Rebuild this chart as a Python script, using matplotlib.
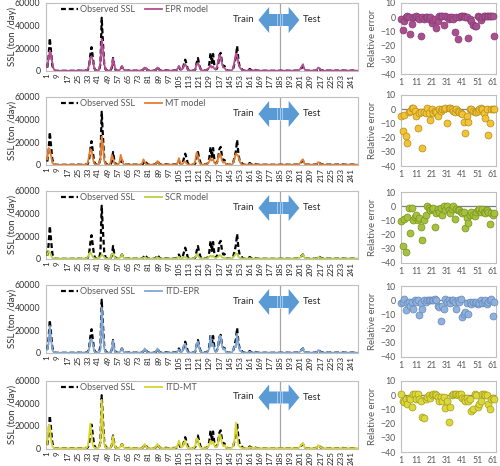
import numpy as np
import matplotlib
matplotlib.use('Agg')
import matplotlib.pyplot as plt
from matplotlib.patches import Polygon

plt.rcParams['font.family'] = ['Lato', 'DejaVu Sans']

# ---------------- data ----------------
days = list(range(1, 247))
tick_days = list(range(1, 247, 8))
test_points = list(range(1, 63))
err_ticks = [1, 11, 21, 31, 41, 51, 61]

observed = [
    3000, 12000, 29000, 17000, 5000, 1200, 300, 200, 150, 150,
    100, 100, 100, 100, 100, 100, 150, 200, 200, 150,
    100, 100, 200, 300, 400, 300, 200, 200, 500, 800,
    500, 300, 1000, 4000, 14000, 21000, 12000, 3000, 800, 400,
    300, 800, 6000, 47000, 25000, 6000, 1500, 600, 400, 400,
    500, 3000, 11500, 4000, 800, 400, 300, 600, 2000, 4000,
    1500, 500, 300, 300, 400, 500, 400, 300, 300, 300,
    300, 400, 500, 400, 300, 500, 1500, 3500, 2500, 800,
    400, 300, 300, 300, 300, 500, 1200, 3500, 2000, 600,
    400, 300, 300, 500, 600, 400, 300, 300, 400, 500,
    400, 500, 800, 1500, 4000, 1500, 800, 2000, 6000, 10000,
    6000, 1500, 600, 400, 300, 300, 500, 1500, 7000, 11500,
    6000, 2000, 600, 400, 500, 400, 600, 2000, 6000, 16000,
    7000, 15000, 5000, 1500, 2000, 6000, 14000, 16000, 8000, 4000,
    4500, 1500, 500, 300, 300, 400, 800, 2500, 7000, 12000,
    22000, 10000, 3500, 3000, 1200, 400, 300, 300, 400, 800,
    1800, 800, 500, 700, 1200, 500, 300, 300, 300, 300,
    200, 200, 300, 200, 200, 200, 300, 200, 200, 200,
    200, 200, 200, 200, 200, 300, 200, 200, 300, 300,
    300, 200, 200, 300, 300, 400, 300, 300, 400, 800,
    1500, 3000, 4000, 1000, 500, 300, 300, 300, 300, 400,
    300, 300, 400, 800, 2500, 2000, 800, 600, 400, 300,
    300, 400, 300, 300, 400, 500, 400, 300, 300, 400,
    300, 300, 400, 500, 400, 300, 300, 400, 300, 300,
    300, 400, 300, 300, 300, 300]

epr_model = [
    4000, 10000, 18000, 15000, 7000, 2000, 500, 300, 200, 200,
    200, 200, 200, 200, 200, 200, 200, 200, 200, 200,
    200, 200, 200, 300, 400, 400, 300, 300, 400, 600,
    500, 400, 1500, 5000, 12000, 13000, 9000, 3000, 800, 400,
    400, 1000, 8000, 28000, 20000, 6000, 1500, 600, 400, 400,
    1000, 4000, 11000, 5000, 1000, 500, 400, 700, 2000, 4000,
    2000, 600, 400, 300, 300, 400, 400, 300, 300, 300,
    300, 300, 400, 400, 300, 500, 1500, 3000, 2500, 800,
    400, 300, 300, 300, 300, 500, 1500, 3000, 2000, 700,
    400, 300, 300, 400, 500, 400, 300, 300, 400, 500,
    400, 500, 1000, 2000, 4000, 2000, 1000, 2000, 5000, 6000,
    4000, 1500, 600, 400, 300, 300, 600, 2000, 6000, 7000,
    5000, 2000, 700, 400, 500, 400, 600, 2000, 3000, 5000,
    3000, 4000, 2000, 1500, 3000, 9000, 14000, 13000, 7000, 3000,
    3000, 1200, 500, 300, 300, 400, 800, 3000, 9000, 15000,
    14000, 7000, 3000, 2000, 1000, 400, 300, 300, 400, 700,
    1000, 600, 400, 600, 800, 400, 300, 300, 300, 300,
    300, 300, 300, 300, 300, 300, 300, 300, 300, 300,
    300, 300, 300, 300, 300, 300, 300, 300, 300, 300,
    300, 300, 300, 300, 300, 300, 300, 300, 400, 800,
    2000, 4000, 6000, 2000, 600, 300, 300, 300, 300, 400,
    300, 300, 400, 1000, 3000, 2500, 1000, 600, 400, 300,
    300, 400, 300, 300, 400, 500, 400, 300, 300, 400,
    300, 300, 400, 500, 400, 300, 300, 400, 300, 300,
    300, 400, 300, 300, 300, 300]

mt_model = [
    5000, 15000, 14000, 8000, 2000, 600, 300, 200, 200, 200,
    200, 200, 200, 200, 200, 200, 200, 200, 200, 200,
    200, 200, 200, 200, 300, 300, 200, 200, 300, 400,
    400, 500, 2000, 8000, 14000, 13000, 6000, 1500, 500, 300,
    300, 1000, 5000, 25000, 18000, 4000, 800, 400, 300, 300,
    2000, 9000, 6000, 1500, 500, 300, 300, 2000, 9000, 5000,
    1000, 400, 300, 300, 300, 300, 300, 300, 300, 300,
    300, 300, 300, 300, 400, 1500, 5000, 3000, 800, 400,
    300, 300, 300, 300, 300, 500, 1000, 3500, 2000, 500,
    300, 300, 300, 300, 400, 300, 300, 300, 300, 400,
    400, 400, 800, 2000, 6000, 2000, 500, 1000, 3000, 3000,
    1500, 500, 300, 300, 300, 300, 1000, 4000, 11000, 8000,
    3000, 800, 400, 300, 300, 300, 500, 1500, 3000, 6000,
    4000, 5000, 2000, 1000, 2000, 6000, 10000, 9000, 4000, 2000,
    3000, 1000, 400, 300, 300, 300, 600, 2000, 6000, 10000,
    9000, 8000, 3000, 1000, 500, 300, 300, 300, 300, 500,
    1000, 500, 300, 400, 600, 300, 300, 300, 300, 300,
    300, 300, 300, 300, 300, 300, 300, 300, 300, 300,
    300, 300, 300, 300, 300, 300, 300, 300, 300, 300,
    300, 300, 300, 300, 300, 300, 300, 300, 400, 800,
    2000, 4000, 5000, 1500, 500, 300, 300, 300, 300, 300,
    300, 300, 300, 800, 2500, 2000, 800, 400, 300, 300,
    300, 300, 300, 300, 300, 300, 300, 300, 300, 300,
    300, 300, 300, 300, 300, 300, 300, 300, 300, 300,
    300, 300, 300, 300, 300, 300]

scr_model = [
    4000, 7000, 6000, 3000, 1000, 500, 400, 400, 400, 400,
    400, 400, 400, 400, 400, 400, 400, 400, 400, 400,
    400, 400, 400, 400, 500, 500, 400, 400, 500, 500,
    400, 500, 1500, 4000, 6000, 4000, 2000, 800, 500, 400,
    400, 800, 2000, 4000, 3000, 1500, 600, 400, 400, 400,
    600, 4000, 5000, 2000, 600, 400, 400, 600, 2000, 4000,
    1500, 500, 400, 400, 400, 400, 400, 400, 400, 400,
    400, 400, 400, 400, 400, 600, 1000, 1500, 1000, 500,
    400, 400, 400, 400, 400, 500, 800, 1500, 1000, 500,
    400, 400, 400, 400, 400, 400, 400, 400, 400, 400,
    400, 400, 600, 1000, 2000, 1000, 500, 800, 1500, 1500,
    1000, 500, 400, 400, 400, 400, 800, 2000, 4000, 3000,
    1500, 700, 400, 400, 400, 400, 500, 1000, 2000, 3000,
    2000, 3000, 1500, 800, 1200, 2000, 3500, 3000, 1500, 1000,
    1200, 700, 400, 400, 400, 400, 500, 1500, 3000, 5000,
    4500, 2000, 1000, 800, 500, 400, 400, 400, 400, 500,
    800, 500, 400, 500, 600, 400, 400, 400, 400, 400,
    400, 400, 400, 400, 400, 400, 400, 400, 400, 400,
    400, 400, 400, 400, 400, 400, 400, 400, 400, 400,
    400, 400, 400, 400, 400, 400, 400, 400, 500, 800,
    1500, 3000, 4000, 1500, 600, 400, 400, 400, 400, 400,
    400, 400, 400, 700, 1500, 1500, 700, 500, 400, 400,
    400, 400, 400, 400, 400, 400, 400, 400, 400, 400,
    400, 400, 400, 400, 400, 400, 400, 400, 400, 400,
    400, 400, 400, 400, 400, 400]

itd_epr_model = [
    3000, 8000, 24000, 12000, 3000, 800, 300, 200, 200, 200,
    200, 200, 200, 200, 200, 200, 200, 200, 200, 200,
    200, 200, 200, 300, 300, 300, 200, 200, 300, 500,
    400, 300, 800, 3000, 12000, 12000, 8000, 2000, 500, 300,
    300, 600, 3000, 40000, 20000, 4000, 800, 400, 300, 300,
    500, 3000, 11000, 3000, 600, 300, 300, 500, 2000, 4000,
    1500, 400, 300, 300, 300, 300, 300, 300, 300, 300,
    300, 300, 400, 300, 300, 400, 1500, 4000, 2000, 600,
    300, 300, 300, 300, 300, 400, 1500, 4000, 2000, 500,
    300, 300, 300, 300, 300, 300, 300, 300, 300, 300,
    300, 400, 600, 1500, 3000, 1500, 600, 2000, 7000, 8000,
    3000, 800, 400, 300, 300, 300, 400, 2000, 8000, 10000,
    5000, 1500, 500, 300, 400, 300, 500, 1500, 4000, 15000,
    6000, 8000, 3000, 1000, 1500, 6000, 15000, 15000, 7000, 3000,
    4000, 1200, 400, 300, 300, 300, 600, 3000, 6000, 5000,
    17000, 8000, 2000, 1500, 800, 300, 300, 300, 300, 600,
    1200, 600, 300, 500, 800, 300, 300, 300, 300, 300,
    300, 300, 300, 300, 300, 300, 300, 300, 300, 300,
    300, 300, 300, 300, 300, 300, 300, 300, 300, 300,
    300, 300, 300, 300, 300, 300, 300, 300, 400, 700,
    1500, 3000, 4000, 1000, 400, 300, 300, 300, 300, 300,
    300, 300, 300, 700, 2500, 2000, 700, 400, 300, 300,
    300, 300, 300, 300, 300, 300, 300, 300, 300, 300,
    300, 300, 300, 300, 300, 300, 300, 300, 300, 300,
    300, 300, 300, 300, 300, 300]

itd_mt_model = [
    4000, 20000, 20000, 8000, 2000, 600, 300, 200, 200, 200,
    200, 200, 200, 200, 200, 200, 200, 200, 200, 200,
    200, 200, 200, 300, 300, 300, 200, 200, 300, 500,
    400, 400, 2000, 10000, 22000, 12000, 3000, 800, 400, 300,
    300, 1000, 5000, 43000, 20000, 4000, 800, 400, 300, 300,
    500, 3000, 11000, 3000, 600, 300, 300, 500, 2000, 4000,
    1500, 400, 300, 300, 300, 300, 300, 300, 300, 300,
    300, 300, 400, 300, 300, 400, 1500, 4000, 2000, 600,
    300, 300, 300, 300, 300, 400, 1500, 4000, 2000, 500,
    300, 300, 300, 300, 300, 300, 300, 300, 300, 300,
    300, 400, 1000, 3000, 7000, 3000, 800, 2000, 5000, 7000,
    3000, 800, 400, 300, 300, 300, 500, 3000, 9000, 8000,
    3000, 1000, 400, 300, 400, 300, 500, 1500, 3000, 7000,
    4000, 6000, 3000, 1000, 1500, 5000, 12000, 11000, 5000, 2000,
    3000, 1000, 400, 300, 300, 300, 600, 3000, 8000, 23000,
    12000, 3000, 1500, 1000, 500, 300, 300, 300, 300, 600,
    1200, 600, 300, 500, 800, 300, 300, 300, 300, 300,
    300, 300, 300, 300, 300, 300, 300, 300, 300, 300,
    300, 300, 300, 300, 300, 300, 300, 300, 300, 300,
    300, 300, 300, 300, 300, 300, 300, 300, 400, 800,
    2000, 3500, 5000, 1500, 500, 300, 300, 300, 300, 300,
    300, 300, 300, 800, 3000, 2000, 800, 400, 300, 300,
    300, 300, 300, 300, 300, 300, 300, 300, 300, 300,
    300, 300, 300, 300, 300, 300, 300, 300, 300, 300,
    300, 300, 300, 300, 300, 300]

epr_err = [
    -1, -9, -3, 0, 1, 0, -12, -5, 0, 0,
    1, 0, -1, -13.5, 0, -1, 0, 0, -1, 0,
    -4, -2, -1, -7.5, -3, 1, 1, 1, -5.5, 1,
    0, -1, 0, 0, -1, -10.5, 0, -15.5, 0, 1,
    1, 1, 0, 0, -14.5, -1, -3, -5.5, -6, -6,
    1, 0, -2, 0, 1, 1, 1, 1, 1, 1,
    1, -13.5]

mt_err = [
    -5, -15, -4, -19, -24, -2, -1, 1, 1, -1,
    -5, -13, -3, -2, -27, -2, -3, 1, -3, -7.5,
    0, -3, -1, -2, -5, 0, -1, 0, 0, 1,
    -10, 1, 1, 0, -1, -2, 0, -1, -2, -3,
    -3.5, -9, -17, -5, -9, 0, 0, -1, -2, -2,
    -1, 0, 1, 0, -3, -6, 0, -18.5, -9.5, 0,
    0, 0]

scr_err = [
    -10.5, -28, -9, -32, -7.5, -1, -19, -1, -9.5, -7.5,
    -6, -10, -8, -15, -24, -9.5, -6, 0, -1, -3,
    -2, -1, -15, -5, -2, -4, -1, -6, 0, -3,
    0, -3, -5, -2, 0, -9, -2, -3, -3, -4,
    -5, -4, -15.5, -8, -11.5, -6, -4, -6, -7, -4,
    -3, -2, -4, -2, -4, -5, -3, -4, -12.5, -5,
    -6, -5]

itd_epr_err = [
    -2, -1, 1, -7, -2, -1, -4, -1, -6, 0,
    -1, 0, -10.5, -2, -6, 0, -1, 0, 0, 0,
    0, 0, 1, 0, -4, -5, -14.5, -4, -6.5, 1,
    -1, 0, -2, 0, 0, -1, -6, 0, -1, 1,
    -12, -10, -8, -2, -10, -1, -3, -1, -2, -1,
    -3, -2, 0, -2, -1, 0, -3, -1, 0, 1,
    -11, -1]

itd_mt_err = [
    1, -4, -5, -3, -6, -2, -3, -8, 1, 1,
    -3, 1, -3, -4, -15, -16, -3, -1, 0, -2,
    0, 1, 1, 0, -1, -4, -1, -4, -1, -9,
    -4, -19, -8, 0, 1, 1, 1, 0, 1, 1,
    -2, -3, -4, -2, -4, -3, -11, -10, 1, 0,
    -8, -6, -4, 1, 1, 0, 0, -6, -10, -3,
    -2, -3]

model_names = ['EPR model', 'MT model', 'SCR model', 'ITD-EPR', 'ITD-MT']
model_series = [epr_model, mt_model, scr_model, itd_epr_model, itd_mt_model]
error_series = [epr_err, mt_err, scr_err, itd_epr_err, itd_mt_err]

line_colors = ['#B84C94', '#E47D2E', '#B9D23C', '#7FA7D6', '#D8D52E']
marker_faces = ['#A8508F', '#F2C335', '#A6C13C', '#8EB2DC', '#DCD73A']
marker_edges = ['#873A72', '#B38C1E', '#78921F', '#6688B8', '#A29E1E']

# ---------------- layout ----------------
W, H = 500, 466
fig = plt.figure(figsize=(W / 100, H / 100), dpi=100)
left_tops = [3, 97, 191, 285, 380.5]
right_tops = [3, 95, 192, 286, 381]
LX, LW, LH = 46, 312, 68
RX, RW, RH = 401, 95, 71
frame_col = '#BFBFBF'
txt_col = '#333333'
grey_txt = '#595959'

for i in range(5):
    top = left_tops[i]
    axL = fig.add_axes([LX / W, 1 - (top + LH) / H, LW / W, LH / H])
    axL.axvline(184.5, color='#A6A6A6', lw=0.9, zorder=1)
    axL.plot(days, observed, color='black', ls=(0, (2.2, 1.3)), lw=1.6,
             label='Observed SSL', zorder=3)
    axL.plot(days, model_series[i], color=line_colors[i], lw=1.3,
             label=model_names[i], zorder=4)
    axL.set_xlim(0, 246.5)
    axL.set_ylim(0, 60000)
    axL.set_yticks([0, 20000, 40000, 60000])
    axL.set_xticks(tick_days)
    axL.set_xticklabels([str(d) for d in tick_days], rotation=90)
    axL.tick_params(axis='x', length=0, pad=2, labelsize=5.8, labelcolor='#262626')
    axL.tick_params(axis='y', length=0, pad=4, labelsize=6.3, labelcolor=txt_col)
    for s in axL.spines.values():
        s.set_color(frame_col)
        s.set_linewidth(0.8)
    axL.set_ylabel('SSL (ton /day)', fontsize=6.9, color=txt_col)
    axL.yaxis.set_label_coords(-0.092, 0.5)
    leg = axL.legend(loc='upper left', bbox_to_anchor=(0.035, 1.02), ncol=2,
                     frameon=False, fontsize=6.5, handlelength=1.9,
                     handletextpad=0.3, columnspacing=1.1, borderaxespad=0)
    for t in leg.get_texts():
        t.set_color(grey_txt)

    # Train / Test arrow
    cx, cy, L, hl, bh, hh = 184, 45000, 16.2, 8.5, 5300, 11500
    verts = [(cx - L, cy), (cx - L + hl, cy + hh), (cx - L + hl, cy + bh),
             (cx + L - hl, cy + bh), (cx + L - hl, cy + hh), (cx + L, cy),
             (cx + L - hl, cy - hh), (cx + L - hl, cy - bh),
             (cx - L + hl, cy - bh), (cx - L + hl, cy - hh)]
    axL.add_patch(Polygon(verts, closed=True, facecolor='#5B9BD5',
                          edgecolor='none', zorder=5))
    for dx in (-1.4, 0.5, 2.2):
        axL.plot([cx + dx, cx + dx], [cy - bh, cy + bh], color='white',
                 lw=0.6, alpha=0.55, zorder=6)
    axL.text(156.5, 45500, 'Train', ha='center', va='center', fontsize=6.9,
             color='#262626', zorder=6)
    axL.text(210.5, 45000, 'Test', ha='center', va='center', fontsize=6.9,
             color='#262626', zorder=6)

    # relative error panel
    rt = right_tops[i]
    axR = fig.add_axes([RX / W, 1 - (rt + RH) / H, RW / W, RH / H])
    axR.axhline(0, color='#7F7F7F', lw=0.9, zorder=1)
    axR.scatter(test_points, error_series[i], s=25, c=marker_faces[i],
                edgecolors=marker_edges[i], linewidths=0.5, zorder=3,
                clip_on=False)
    axR.set_xlim(1, 63)
    axR.set_ylim(-40, 10)
    axR.set_yticks([-40, -30, -20, -10, 0, 10])
    axR.set_xticks(err_ticks)
    axR.tick_params(length=0, labelsize=6.3, labelcolor=grey_txt)
    axR.tick_params(axis='x', pad=3)
    axR.tick_params(axis='y', pad=4)
    for s in axR.spines.values():
        s.set_color(frame_col)
        s.set_linewidth(0.8)
    axR.set_ylabel('Relative error', fontsize=6.9, color=grey_txt)
    axR.yaxis.set_label_coords(-0.25, 0.5)

fig.savefig('out.png', dpi=100)
